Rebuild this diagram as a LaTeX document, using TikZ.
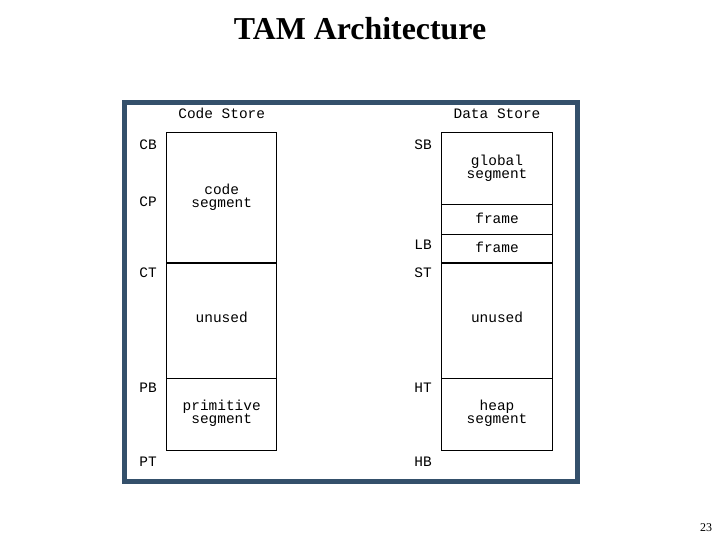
\documentclass[tikz,border=0pt]{standalone}
\usepackage{fontspec}
\setmainfont{Liberation Serif}
\newfontfamily\monof{Liberation Mono}
\definecolor{framecol}{HTML}{34506B}
\begin{document}
\begin{tikzpicture}[x=1bp,y=-1bp,
  mono/.style={font=\monof\fontsize{14.5}{13}\selectfont, inner sep=0pt, align=center},
  lbl/.style={mono, text height=9.5bp, text depth=0bp},
  seg/.style={draw=black, line width=1.3bp},
  sep/.style={draw=black, line width=2bp}]
\useasboundingbox (0,0) rectangle (720,540);
% title
\node[font=\bfseries\fontsize{32}{36}\selectfont] (title) at (360,29) {TAM Architecture};
\node[font=\fontsize{12}{14}\selectfont] (page) at (706,528) {23};
% outer frame
\draw[framecol, line width=5bp] (124.5,102.5) rectangle (577.5,481.5);
% headers
\node[lbl] (cs) at (221.7,114) {Code Store};
\node[lbl] (ds) at (497,114) {Data Store};
% code store
\draw[seg] (166.7,132.3) rectangle (276.7,450.3);
\draw[sep] (166.7,262.7) -- (276.7,262.7);
\draw[seg] (166.7,378.3) -- (276.7,378.3);
\node[mono] (codeseg) at (221.7,197) {code\\segment};
\node[lbl] (unused1) at (221.7,318) {unused};
\node[mono] (primseg) at (221.7,413) {primitive\\segment};
\node[lbl] (CB) at (148,145) {CB};
\node[lbl] (CP) at (148,202) {CP};
\node[lbl] (CT) at (148,273) {CT};
\node[lbl] (PB) at (148,388) {PB};
\node[lbl] (PT) at (148,462) {PT};
% data store
\draw[seg] (441.7,132.3) rectangle (552.7,450.3);
\draw[seg] (441.7,204.3) -- (552.7,204.3);
\draw[seg] (441.7,234.3) -- (552.7,234.3);
\draw[sep] (441.7,262.7) -- (552.7,262.7);
\draw[seg] (441.7,378.3) -- (552.7,378.3);
\node[mono] (globseg) at (497,168.5) {global\\segment};
\node[lbl] (frame1) at (497,219) {frame};
\node[lbl] (frame2) at (497,248) {frame};
\node[lbl] (unused2) at (497,318) {unused};
\node[mono] (heapseg) at (497,413) {heap\\segment};
\node[lbl] (SB) at (423,145) {SB};
\node[lbl] (LB) at (423,245) {LB};
\node[lbl] (ST) at (423,273) {ST};
\node[lbl] (HT) at (423,388) {HT};
\node[lbl] (HB) at (423,462) {HB};
\end{tikzpicture}
\end{document}
